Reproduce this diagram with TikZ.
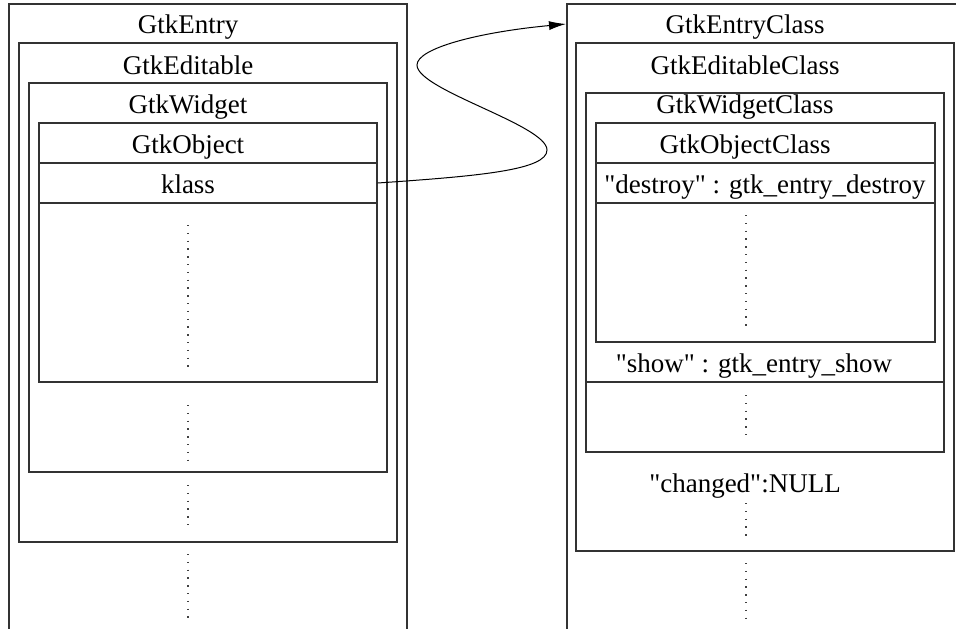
\documentclass[tikz,border=0pt]{standalone}
\usepackage{fontspec}
\setmainfont{Liberation Serif}
\usetikzlibrary{arrows.meta}

\begin{document}
\begin{tikzpicture}[x=1pt, y=-1pt]
	\tikzset{boite/.style={draw=black!80, line width=1.2pt}, texte/.style={anchor=base, inner sep=0pt, font=\fontsize{27}{30}\selectfont}, points/.style={draw=black!75, line width=1.3pt, dash pattern=on 1.3pt off 6.5pt}, fleche/.style={>={Latex[length=17pt, width=9pt]}, ->, line width=1pt}};

	\useasboundingbox (0,0) rectangle (956,629);

	% objet GtkEntry
	\draw[boite] (9,629) -- (9,4) -- (407,4) -- (407,629);
	\draw[boite] (19,43) rectangle (397,542);
	\draw[boite] (29,83) rectangle (387,472);
	\draw[boite] (39,123) rectangle (377,382);
	\node[boite, minimum width=338pt, minimum height=40pt, inner sep=0pt] (case) at (208,183) {};

	\node[texte] (entry)    at (188, 34) {GtkEntry};
	\node[texte] (editable) at (188, 74) {GtkEditable};
	\node[texte] (widget)   at (188,113) {GtkWidget};
	\node[texte] (object)   at (188,153) {GtkObject};
	\node[texte] (klass)    at (188,193) {klass};

	\draw[points] (188,225) -- (188,372);
	\draw[points] (188,405) -- (188,464);
	\draw[points] (188,485) -- (188,527);
	\draw[points] (188,554) -- (188,621);

	% classe GtkEntryClass
	\draw[boite] (956,4) -- (567,4) -- (567,629);
	\draw[boite] (576,43) rectangle (954,551);
	\draw[boite] (586,93) rectangle (944,452);
	\draw[boite] (586,382) -- (944,382);
	\draw[boite] (596,123) rectangle (935,342);
	\draw[boite] (596,163) -- (935,163);
	\draw[boite] (596,203) -- (935,203);
	\coordinate (classe) at (566,24);

	\node[texte] (entryclass)    at (745, 33) {GtkEntryClass};
	\node[texte] (editableclass) at (745, 74) {GtkEditableClass};
	\node[texte] (widgetclass)   at (745,113) {GtkWidgetClass};
	\node[texte] (objectclass)   at (745,153) {GtkObjectClass};
	\node[texte] (destroy)       at (765,193) {\textquotedbl destroy\textquotedbl{} : gtk\_entry\_destroy};
	\node[texte] (show)          at (754,372) {\textquotedbl show\textquotedbl{} : gtk\_entry\_show};
	\node[texte] (changed)       at (745,492) {\textquotedbl changed\textquotedbl :NULL};

	\draw[points] (746,215) -- (746,331);
	\draw[points] (746,395) -- (746,438);
	\draw[points] (746,503) -- (746,540);
	\draw[points] (746,563) -- (746,625);

	\draw[fleche] (case.east) .. controls (480,176) and (547,170) .. (547,150) .. controls (547,125) and (417,90) .. (417,65) .. controls (417,48) and (480,32) .. (classe);

\end{tikzpicture}
\end{document}
